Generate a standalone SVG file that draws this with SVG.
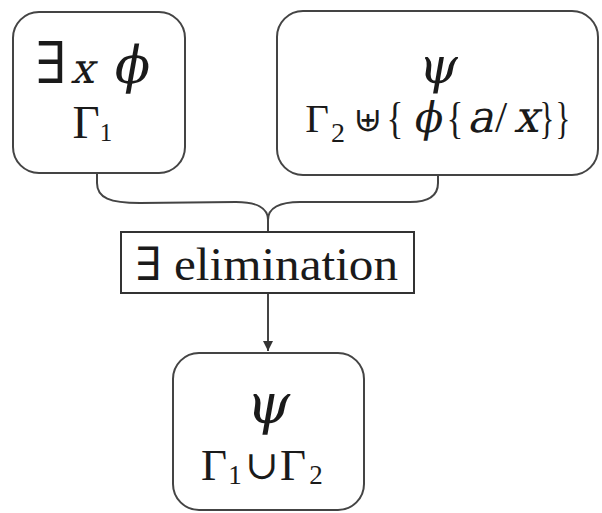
<svg xmlns="http://www.w3.org/2000/svg" width="602" height="513" viewBox="0 0 602 513">
<style>
.box{fill:#fff;stroke:#444;stroke-width:2}
.t{font-family:"Liberation Serif","DejaVu Serif",serif;fill:#1a1a1a;text-anchor:middle}
.g{font-family:"DejaVu Serif","Liberation Serif",serif;fill:#1a1a1a;text-anchor:middle}
.con{fill:none;stroke:#444;stroke-width:2}
</style>
<defs>
<marker id="ah" viewBox="0 0 10 10" refX="10" refY="5" markerWidth="5" markerHeight="5" orient="auto" markerUnits="strokeWidth">
<path d="M0,0 L10,5 L0,10 z" fill="#333"/>
</marker>
</defs>
<rect width="602" height="513" fill="#fff"/>
<g id="connectors">
<path class="con" d="M97,173 L97,183 C97,198 110,203 140,203 L236,202 C256,202 268,208 268,220 L268,232"/>
<path class="con" d="M268,220 C268,208 280,202 300,202 L410,202 C428,202 438,196 438,183 L438,175"/>
<path class="con" d="M268,293 L268,351" marker-end="url(#ah)"/>
</g>
<g id="premise1">
<rect class="box" x="13" y="12" width="172" height="161" rx="26"/>
<text class="t" x="51" y="83" font-size="58">∃</text>
<text class="g" transform="translate(82,83) skewX(-14)" font-size="42">x</text>
<text class="g" transform="translate(130,83) skewX(-10)" font-size="52">ϕ</text>
<text class="t" x="86" y="138" font-size="47">Γ</text>
<text class="t" x="106" y="141" font-size="25">1</text>
</g>
<g id="premise2">
<rect class="box" x="277" y="11" width="321" height="164" rx="26"/>
<text class="g" transform="translate(437,83) skewX(-10)" font-size="50">ψ</text>
<text class="t" x="317" y="132" font-size="41">Γ</text>
<text class="t" x="338" y="142" font-size="28">2</text>
<text class="t" x="368" y="131" font-size="34">⊎</text>
<text class="t" transform="translate(395,133) scale(0.8,1)" font-size="44">{</text>
<text class="g" transform="translate(427,132) skewX(-10)" font-size="42">ϕ</text>
<text class="t" transform="translate(455,133) scale(0.8,1)" font-size="44">{</text>
<text class="g" transform="translate(480,132) skewX(-14)" font-size="44">a</text>
<text class="t" x="501" y="132" font-size="44">/</text>
<text class="g" transform="translate(526,132) skewX(-14)" font-size="44">x</text>
<text class="t" transform="translate(547,133) scale(0.7,1)" font-size="44">}</text>
<text class="t" transform="translate(563,133) scale(0.7,1)" font-size="44">}</text>
</g>
<g id="rule">
<rect x="121" y="232" width="293" height="61" fill="#fff" stroke="#333" stroke-width="2"/>
<text class="t" x="135" y="280" font-size="46" style="text-anchor:start" textLength="263" lengthAdjust="spacingAndGlyphs">∃ elimination</text>
</g>
<g id="conclusion">
<rect class="box" x="173" y="353" width="191" height="157" rx="26"/>
<text class="g" transform="translate(267,423) skewX(-10)" font-size="56">ψ</text>
<text class="t" x="214" y="480" font-size="45">Γ</text>
<text class="t" x="235" y="484" font-size="27">1</text>
<text class="t" x="262" y="479" font-size="40">∪</text>
<text class="t" x="293" y="480" font-size="45">Γ</text>
<text class="t" x="316" y="484" font-size="27">2</text>
</g>
</svg>
